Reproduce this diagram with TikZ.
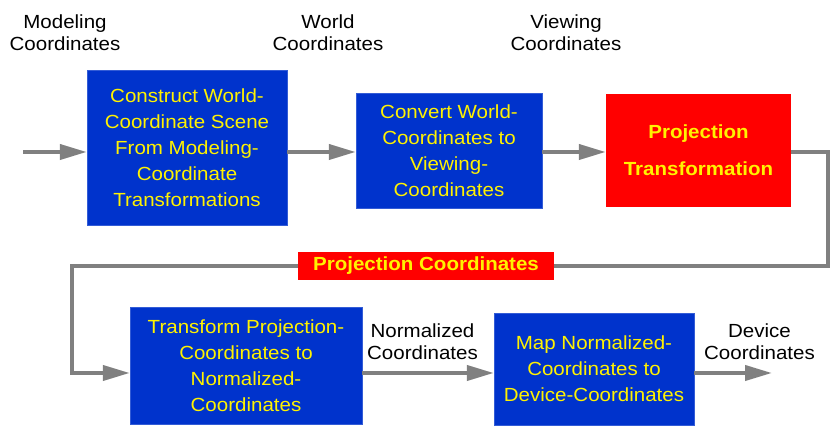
\documentclass[tikz,border=0pt]{standalone}
\usepackage{fontspec}
\setmainfont{Liberation Sans}[FakeStretch=1.08]
\usepackage{tikz}
\usetikzlibrary{arrows.meta,positioning}
\definecolor{boxblue}{RGB}{0,51,204}
\definecolor{flowgray}{RGB}{128,128,128}
\tikzstyle{stage} = [fill=boxblue, draw=boxblue!80!white, text=yellow, align=center, inner sep=0pt, font=\fontsize{19}{26}\selectfont]
\tikzstyle{proj} = [fill=red, text=yellow, align=center, inner sep=0pt, font=\bfseries\fontsize{19}{37}\selectfont]
\tikzstyle{coord} = [align=center, font=\fontsize{19}{22}\selectfont]
\tikzstyle{flow} = [draw=flowgray, line width=4pt]
\tikzset{>={Triangle[length=27pt,width=15pt]}}

\begin{document}
\begin{tikzpicture}[x=1pt,y=1pt]
    \useasboundingbox (0,0) rectangle (831,428);
    \node [stage, minimum width=200pt, minimum height=155pt] (world) at (187,280.5) {Construct World-\\Coordinate Scene\\From Modeling-\\Coordinate\\Transformations};
    \node [stage, minimum width=186pt, minimum height=115pt] (view) at (449,277.5) {Convert World-\\Coordinates to\\Viewing-\\Coordinates};
    \node [proj, minimum width=185pt, minimum height=113pt] (projtf) at (698.5,277.5) {Projection\\Transformation};
    \node [proj, minimum width=256pt, minimum height=28pt] (projc) at (426,162) {Projection Coordinates};
    \node [stage, minimum width=232pt, minimum height=117pt] (norm) at (246,62.5) {Transform Projection-\\Coordinates to\\Normalized-\\Coordinates};
    \node [stage, minimum width=200pt, minimum height=112pt] (dev) at (594,59) {Map Normalized-\\Coordinates to\\Device-Coordinates};
    \node [coord] (mclab) at (65,395) {Modeling\\Coordinates};
    \node [coord] (wclab) at (328,395) {World\\Coordinates};
    \node [coord] (vclab) at (566,395) {Viewing\\Coordinates};
    \node [coord] (nclab) at (422.5,86.5) {Normalized\\Coordinates};
    \node [coord] (dclab) at (759.5,86.5) {Device\\Coordinates};
    \coordinate (start) at (23,276);
    \coordinate (finish) at (772,55);
    \coordinate (bend) at (828,276);
    \coordinate (turn) at (72,55);
    \draw [flow,->] (start) -- (start -| world.west);
    \draw [flow,->] (world.east |- start) -- (view.west |- start);
    \draw [flow,->] (view.east |- start) -- (projtf.west |- start);
    \draw [flow] (projtf.east |- start) -- (bend) |- (projc);
    \draw [flow,->] (projc) -| (turn) -- (turn -| norm.west);
    \draw [flow,->] (norm.east |- turn) -- (dev.west |- turn);
    \draw [flow,->] (dev.east |- turn) -- (finish);
\end{tikzpicture}
\end{document}
